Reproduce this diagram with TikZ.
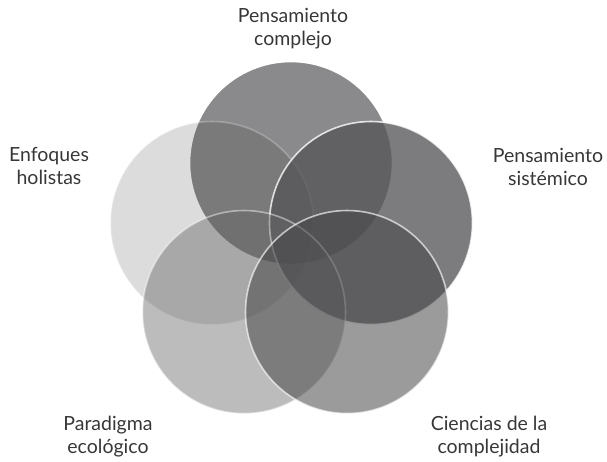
\documentclass[tikz,border=0pt]{standalone}
\usepackage{fontspec}
\setmainfont{Lato}
\usepackage{xcolor}
\usetikzlibrary{positioning}

\definecolor{txtGray}{RGB}{55,55,57}
\definecolor{complejoGray}{RGB}{138,138,140}
\definecolor{holistasGray}{RGB}{39,39,40}
\definecolor{sistemicoGray}{RGB}{85,85,88}
\definecolor{paradigmaGray}{RGB}{100,100,101}
\definecolor{cienciasGray}{RGB}{70,70,72}

\begin{document}
\begin{tikzpicture}[x=1pt, y=-1pt, bubble/.style={circle, minimum size=203pt, inner sep=0pt, draw=white, line width=1.6pt}, label/.style={align=center, text=txtGray, font=\fontsize{19.5}{23}\selectfont}]
\useasboundingbox (0,0) rectangle (607,461);

% Circles, drawn from back to front
\node [bubble, fill=complejoGray] (complejo) at (291,163) {};
\node [bubble, fill=holistasGray, fill opacity=0.16, draw opacity=0.25] (holistas) at (212,223) {};
\node [bubble, fill=sistemicoGray, fill opacity=0.77, draw opacity=0.8] (sistemico) at (371,223) {};
\node [bubble, fill=paradigmaGray, fill opacity=0.43, draw opacity=0.45] (paradigma) at (244,312) {};
\node [bubble, fill=cienciasGray, fill opacity=0.54, draw opacity=0.65] (ciencias) at (347,312) {};

% Labels round the circles
\node [label] (complejoText) at (293,29) {Pensamiento\\complejo};
\node [label] (sistemicoText) at (548,167) {Pensamiento\\sistémico};
\node [label] (holistasText) at (49,166) {Enfoques\\holistas};
\node [label] (paradigmaText) at (108,437) {Paradigma\\ecológico};
\node [label] (cienciasText) at (489,437) {Ciencias de la\\complejidad};
\end{tikzpicture}
\end{document}
